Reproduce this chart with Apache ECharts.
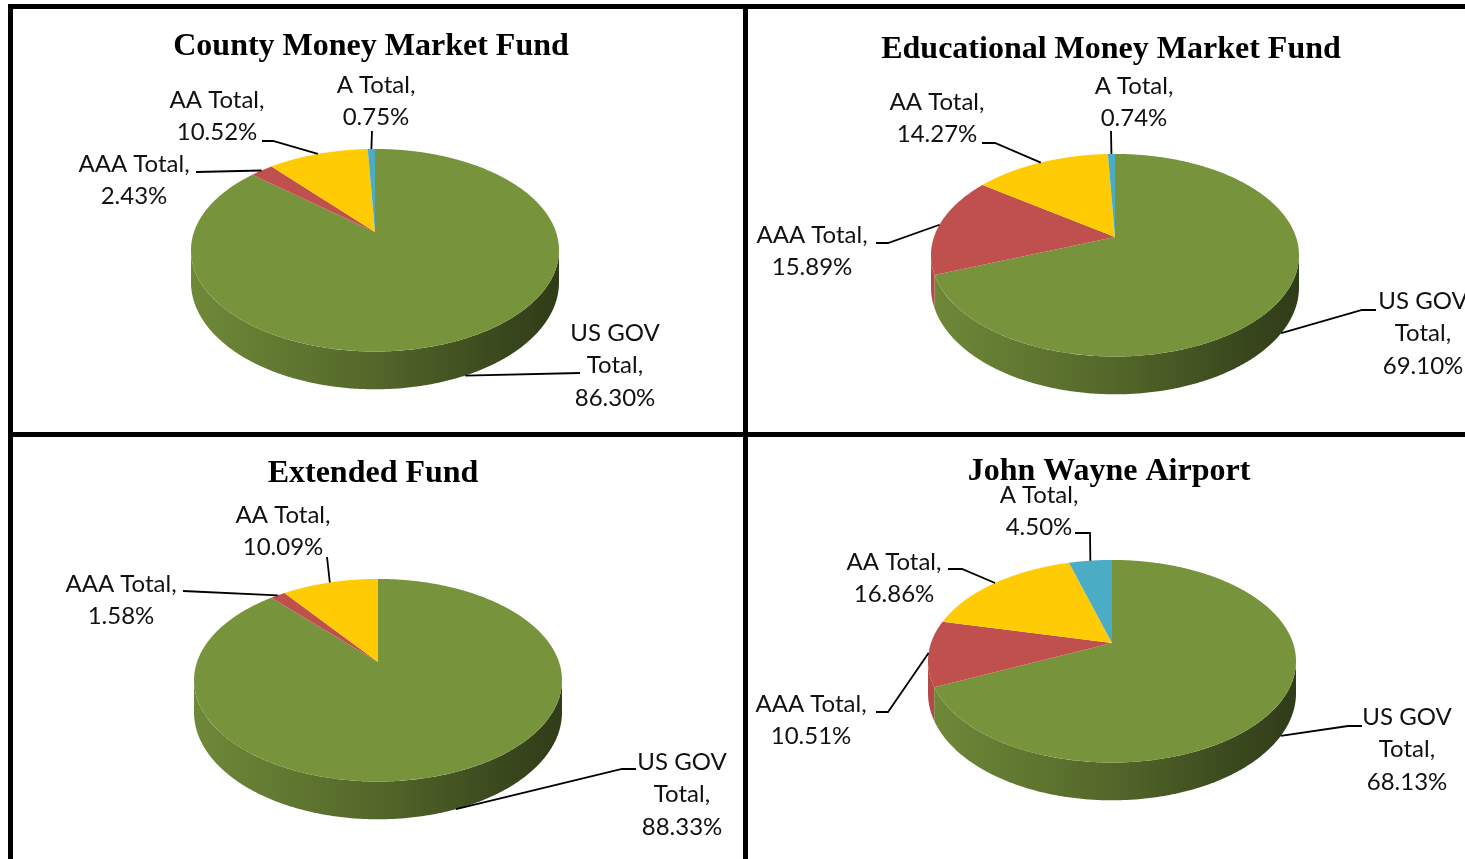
<!DOCTYPE html>
<html><head><meta charset="utf-8">
<script src="https://cdn.jsdelivr.net/npm/echarts@6/dist/echarts.min.js"></script>
<style>html,body{margin:0;padding:0;background:#fff}#c{width:1465px;height:859px}</style>
</head><body><div id="c"></div>
<script>
// ---------- data ----------
const categories = ['US GOV Total', 'AAA Total', 'AA Total', 'A Total'];
const titles = ['County Money Market Fund', 'Educational Money Market Fund', 'Extended Fund', 'John Wayne Airport'];
const countyValues = [86.30, 2.43, 10.52, 0.75];
const educationalValues = [69.10, 15.89, 14.27, 0.74];
const extendedValues = [88.33, 1.58, 10.09];
const johnWayneValues = [68.13, 10.51, 16.86, 4.50];
const seriesValues = [countyValues, educationalValues, extendedValues, johnWayneValues];

// ---------- layout / style ----------
const colors = ['#77933c', '#c0504d', '#ffcb05', '#4bacc6'];
const layouts = [
  { title: [371, 47], apex: [375, 232], labels: [
    { t: [615, 333], p: [[580, 373]] },
    { t: [134, 164], p: [[196, 172]] },
    { t: [217, 100], p: [[262, 141], [273, 141]] },
    { t: [376, 85],  p: [[372, 131]] } ] },
  { title: [1111, 50], apex: [1115, 237], labels: [
    { t: [1423, 301], p: [[1376, 310], [1362, 310]] },
    { t: [812, 235],  p: [[876, 243], [888, 243]] },
    { t: [937, 102],  p: [[982, 143], [995, 143]] },
    { t: [1134, 86],  p: [[1111, 131]] } ] },
  { title: [373, 474], apex: [378, 662], labels: [
    { t: [682, 762], p: [[636, 769], [622, 769]] },
    { t: [121, 584], p: [[183, 591]] },
    { t: [283, 515], p: [[327, 557]] } ] },
  { title: [1109, 472], apex: [1112, 643], labels: [
    { t: [1407, 717], p: [[1362, 726], [1348, 726]] },
    { t: [811, 704],  p: [[876, 712], [888, 712]] },
    { t: [894, 562],  p: [[948, 569], [962, 569]] },
    { t: [1039, 495], p: [[1075, 533], [1090, 533]] } ] }
];
const PK = 0.18, RA = 98, RB = 181, WH = 31;
const LABEL_FONT = 'Lato', LABEL_SIZE = 24, LABEL_LH = 32.5;

function pt(cx, cy, th) {
  const d = 1 + PK * Math.cos(th);
  return [cx + RB * Math.sin(th) / d, cy - RA * Math.cos(th) / d];
}
function wallH(th) { return WH / (1 + PK * Math.cos(th)); }
function shade(hex, f) {
  const n = parseInt(hex.slice(1), 16);
  const r = (n >> 16) & 255, g = (n >> 8) & 255, b = n & 255;
  return 'rgb(' + Math.round(r * f) + ',' + Math.round(g * f) + ',' + Math.round(b * f) + ')';
}

function makeRender(ci) {
  const L = layouts[ci];
  const vals = seriesValues[ci];
  const total = vals.reduce((a, b) => a + b, 0);
  return function (params, api) {
    const i = params.dataIndex;
    const v = api.value(0);
    let cum = 0;
    for (let j = 0; j < i; j++) cum += vals[j];
    const a1 = cum / total * 2 * Math.PI, a2 = (cum + v) / total * 2 * Math.PI;
    const cx = L.apex[0], cy = L.apex[1];
    const children = [];
    const w0 = Math.acos(-PK), w1 = 2 * Math.PI - w0;
    const s = Math.max(a1, w0), e = Math.min(a2, w1);
    if (e > s) {
      const top = [], bot = [];
      const n = Math.max(2, Math.ceil((e - s) / 0.01));
      for (let q = 0; q <= n; q++) {
        const th = s + (e - s) * q / n;
        const p = pt(cx, cy, th);
        top.push(p);
        bot.push([p[0], p[1] + wallH(th)]);
      }
      const base = colors[i];
      children.push({
        type: 'polygon', z2: 1,
        shape: { points: top.concat(bot.reverse()) },
        style: { fill: new echarts.graphic.LinearGradient(cx - 186, 0, cx + 186, 0, [
          { offset: 0, color: shade(base, 0.93) },
          { offset: 0.5, color: shade(base, 0.70) },
          { offset: 0.85, color: shade(base, 0.48) },
          { offset: 1, color: shade(base, 0.40) }
        ], true) }
      });
    }
    const pts = [[cx, cy]];
    const m = Math.max(2, Math.ceil((a2 - a1) / 0.01));
    for (let q = 0; q <= m; q++) pts.push(pt(cx, cy, a1 + (a2 - a1) * q / m));
    children.push({ type: 'polygon', z2: 2, shape: { points: pts }, style: { fill: colors[i] } });

    const lab = L.labels[i];
    if (lab) {
      const mid = (a1 + a2) / 2;
      const ep = pt(cx, cy, mid);
      if (Math.cos(mid) < -PK) ep[1] += wallH(mid);
      children.push({ type: 'polyline', z2: 3, shape: { points: lab.p.concat([ep]) },
        style: { stroke: '#000', lineWidth: 1.8, fill: null } });
      const name = categories[i];
      const nm = name === 'US GOV Total' ? 'US GOV\nTotal' : name;
      children.push({ type: 'text', z2: 4, style: {
        text: nm + ',\n' + v.toFixed(2) + '%',
        x: lab.t[0], y: lab.t[1] - LABEL_LH / 2,
        align: 'center', verticalAlign: 'top',
        fontFamily: LABEL_FONT, fontSize: LABEL_SIZE, lineHeight: LABEL_LH, fill: '#111'
      } });
    }
    return { type: 'group', children: children };
  };
}

const chart = echarts.init(document.getElementById('c'), null, { renderer: 'canvas' });
chart.setOption({
  animation: false,
  backgroundColor: '#fff',
  title: titles.map((t, i) => ({
    text: t, left: layouts[i].title[0], top: layouts[i].title[1] - 19, padding: 0,
    textAlign: 'center',
    textStyle: { fontFamily: 'Liberation Serif', fontWeight: 'bold', fontSize: 32, lineHeight: 38, color: '#000' }
  })),
  graphic: [
    { type: 'rect', shape: { x: 8, y: 4, width: 1457, height: 5 }, style: { fill: '#000' } },
    { type: 'rect', shape: { x: 8, y: 4, width: 5, height: 855 }, style: { fill: '#000' } },
    { type: 'rect', shape: { x: 743, y: 4, width: 5, height: 855 }, style: { fill: '#000' } },
    { type: 'rect', shape: { x: 8, y: 432, width: 1457, height: 5 }, style: { fill: '#000' } }
  ],
  series: seriesValues.map((vals, ci) => ({
    type: 'custom',
    name: titles[ci],
    coordinateSystem: 'none',
    renderItem: makeRender(ci),
    data: vals.map((v, i) => ({ name: categories[i], value: [v] }))
  }))
});
</script></body></html>
